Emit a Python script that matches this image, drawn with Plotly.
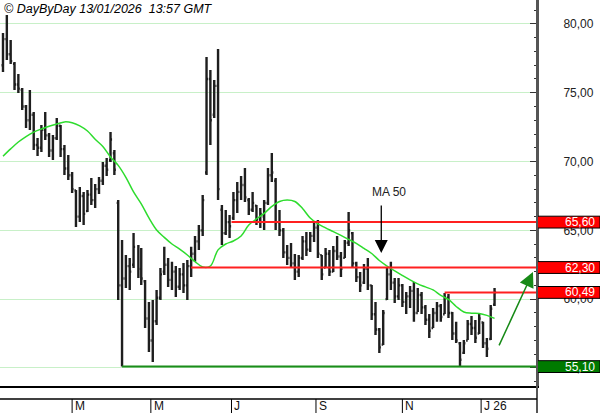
import pandas as pd
import plotly.graph_objects as go

# ---------------- data ----------------
holidays = ["2025-04-18", "2025-04-21", "2025-05-01", "2025-12-25", "2025-12-26", "2026-01-01"]
sessions = pd.bdate_range("2025-01-10", "2026-01-13")
sessions = sessions[~sessions.isin(pd.to_datetime(holidays))]
future = pd.bdate_range("2026-01-14", periods=30)
bar_dates = sessions[::2]          # one bar every two sessions
ma_dates = sessions[::4]

highs = [79.35, 80.65, 78.84, 77.24, 76.37, 75.35, 74.11, 75.20, 73.61, 71.72,
         72.66, 73.61, 72.08, 71.93, 73.17, 72.66, 71.21, 70.48, 69.24, 67.94,
         68.15, 67.79, 67.94, 68.81, 68.37, 68.88, 69.97, 70.26, 72.15, 70.84,
         67.21, 64.30, 63.21, 63.00, 64.81, 63.94, 63.72, 61.40, 59.80, 59.94,
         60.67, 62.27, 63.80, 63.00, 62.71, 62.41, 62.27, 62.63, 62.85, 63.80,
         64.59, 65.39, 67.57, 77.60, 76.66, 75.93, 78.18, 66.85, 66.48, 66.12,
         67.79, 68.52, 68.95, 69.54, 67.36, 67.79, 66.85, 66.63, 67.21, 69.54,
         70.63, 68.81, 66.48, 65.18, 63.94, 64.09, 63.29, 63.21, 64.59, 64.88,
         64.88, 65.61, 65.76, 63.21, 63.72, 63.58, 63.87, 64.59, 63.43, 64.30,
         66.34, 64.88, 62.71, 61.98, 62.56, 63.00, 61.03, 59.80, 57.91, 59.22,
         62.27, 62.71, 61.54, 61.54, 61.11, 60.52, 60.96, 61.25, 60.82, 60.52,
         59.58, 58.93, 59.36, 59.80, 59.65, 60.45, 60.38, 59.07, 58.35, 56.89,
         57.04, 58.49, 58.78, 58.49, 58.93, 58.35, 57.18, 59.58, 60.82]
lows = [76.51, 77.38, 77.09, 75.20, 74.99, 73.75, 72.44, 72.30, 70.84, 70.41,
        70.70, 71.57, 70.33, 70.12, 71.57, 70.33, 69.03, 68.66, 67.72, 65.25,
        65.61, 65.39, 66.34, 66.85, 66.63, 67.65, 68.30, 68.95, 69.97, 69.03,
        59.94, 55.10, 60.82, 60.67, 62.27, 61.54, 61.03, 57.91, 56.16, 55.44,
        58.13, 59.94, 61.76, 60.89, 60.67, 60.16, 60.67, 60.45, 59.94, 61.61,
        62.71, 63.58, 64.59, 69.03, 71.21, 73.17, 67.21, 63.94, 64.67, 64.45,
        65.76, 66.27, 67.21, 67.06, 66.12, 66.34, 65.39, 65.18, 65.03, 66.85,
        68.52, 65.03, 64.59, 63.00, 62.49, 62.27, 61.40, 61.61, 62.85, 63.14,
        63.43, 64.16, 63.00, 61.40, 62.27, 61.69, 61.98, 62.85, 61.61, 63.00,
        63.87, 62.27, 61.25, 60.52, 61.11, 60.67, 58.49, 57.40, 56.09, 56.67,
        59.94, 60.67, 59.73, 59.94, 59.43, 58.93, 59.36, 58.35, 59.07, 58.93,
        58.13, 57.18, 57.91, 58.35, 58.35, 58.93, 58.64, 57.04, 56.82, 55.10,
        56.02, 57.04, 57.40, 56.82, 57.47, 56.46, 55.80, 57.04, 59.51]
opens = [77.0, 78.9, 77.8, 77.1, 75.6, 75.2, 74.0, 73.0, 73.4, 71.2,
         71.0, 72.3, 71.9, 70.8, 71.7, 72.6, 70.9, 69.5, 69.0, 67.9,
         66.0, 67.5, 66.4, 67.6, 67.2, 68.0, 68.6, 69.7, 70.1, 70.6,
         67.0, 61.0, 61.5, 62.4, 62.5, 63.8, 62.2, 61.3, 58.6, 57.0,
         58.4, 60.1, 62.0, 62.5, 61.4, 62.0, 60.9, 61.8, 61.0, 62.4,
         63.3, 64.2, 65.0, 69.2, 76.0, 73.4, 75.5, 66.5, 64.8, 65.6,
         65.9, 67.2, 67.8, 68.3, 67.2, 66.5, 66.8, 65.8, 66.0, 67.0,
         69.0, 68.6, 65.6, 65.0, 63.4, 63.0, 62.6, 62.0, 63.0, 64.2,
         63.6, 64.6, 65.2, 63.2, 62.3, 63.3, 62.0, 63.5, 63.1, 63.0,
         64.1, 64.8, 62.6, 61.6, 61.2, 62.2, 61.0, 58.9, 57.8, 56.7,
         60.0, 61.8, 61.2, 60.2, 61.0, 59.8, 60.2, 60.6, 59.0, 60.3,
         59.4, 58.5, 57.9, 59.0, 59.5, 58.9, 60.1, 59.0, 57.5, 56.8,
         56.1, 57.0, 58.2, 57.9, 57.5, 58.3, 56.8, 57.1, 59.6]
closes = [78.9, 77.8, 77.3, 75.6, 75.3, 74.0, 73.0, 73.4, 71.2, 71.0,
          72.3, 71.9, 70.8, 71.7, 72.6, 70.9, 69.5, 69.0, 68.0, 66.0,
          67.5, 66.2, 67.6, 67.2, 68.0, 68.6, 69.7, 69.4, 71.6, 69.4,
          61.0, 61.5, 62.4, 62.0, 63.8, 62.2, 61.5, 58.6, 57.0, 58.4,
          60.1, 61.8, 62.5, 61.4, 62.0, 60.9, 61.8, 61.0, 62.4, 63.3,
          64.2, 65.0, 67.2, 76.0, 73.0, 75.5, 68.0, 64.8, 65.6, 65.3,
          67.2, 67.8, 68.3, 67.4, 66.5, 67.0, 65.8, 66.2, 67.0, 69.0,
          69.2, 65.6, 65.0, 63.4, 63.0, 62.6, 62.0, 63.0, 64.2, 63.6,
          64.6, 65.2, 63.3, 61.8, 63.3, 62.0, 63.5, 63.1, 62.2, 64.1,
          65.0, 62.6, 61.6, 61.0, 62.2, 61.0, 58.9, 57.8, 56.5, 59.0,
          61.8, 61.2, 60.2, 61.0, 59.8, 60.2, 60.6, 59.0, 60.3, 59.4,
          58.5, 57.7, 59.0, 59.5, 58.7, 60.1, 59.0, 57.5, 57.0, 55.6,
          56.8, 58.2, 57.9, 57.2, 58.6, 56.8, 56.4, 59.3, 60.49]

ma50 = [70.39, 70.92, 71.42, 71.82, 72.14, 72.37, 72.57, 72.73, 72.88, 72.82,
        72.59, 72.22, 71.62, 71.10, 70.33, 69.72, 68.85, 67.79, 66.92, 65.90,
        65.03, 64.49, 64.01, 63.63, 63.21, 62.73, 62.34, 62.41, 63.58, 64.01,
        64.23, 64.59, 65.39, 65.83, 66.23, 66.74, 67.10, 67.21, 67.10, 66.59,
        65.90, 65.47, 65.18, 64.91, 64.63, 64.34, 64.05, 63.69, 63.32, 62.81,
        62.41, 62.05, 61.72, 61.40, 61.11, 60.89, 60.67, 60.27, 59.98, 59.47,
        59.07, 58.98, 58.96, 58.82, 58.60]

levels = [65.60, 62.30, 60.49, 55.10]
level_start = [119, 98, 230, 62]          # session index where each line starts
level_colors = ["#ff2020", "#ff2020", "#ff2020", "#1a8c1a"]
box_colors = ["#ff0000", "#ff0000", "#ff0000", "#007a00"]

month_ticks = ["2025-03-03", "2025-05-02", "2025-07-01", "2025-09-01", "2025-11-03", "2026-01-02"]
month_labels = ["M", "M", "J", "S", "N", "J 26"]

header = "© DayByDay 13/01/2026\u00a0 13:57 GMT"

# ---------------- figure ----------------
W, H = 600, 413
ML, MR, MT, MB = 0, 63, 0, 27
PH = H - MT - MB
PW = W - ML - MR
x_start = "2025-01-08 10:35"
x_end = "2026-02-12 02:30"
FONT = "Liberation Sans, Arial, sans-serif"

fig = go.Figure()
fig.add_trace(go.Ohlc(
    x=bar_dates, open=opens, high=highs, low=lows, close=closes,
    increasing=dict(line=dict(color="#1e1e1e", width=2.4)),
    decreasing=dict(line=dict(color="#1e1e1e", width=2.4)),
    tickwidth=0.4, hoverinfo="skip", showlegend=False))
fig.add_trace(go.Scatter(
    x=ma_dates, y=ma50, mode="lines",
    line=dict(color="#2edc2e", width=1.5, shape="spline"),
    hoverinfo="skip", showlegend=False))

shapes = []
annotations = []
for lvl, si, lc, bc in zip(levels, level_start, level_colors, box_colors):
    shapes.append(dict(type="line", xref="x", yref="y", x0=sessions[si], x1=x_end,
                       y0=lvl, y1=lvl, line=dict(color=lc, width=2), layer="above"))
    shapes.append(dict(type="rect", xref="paper", yref="y", x0=1.0, x1=(W - ML) / PW,
                       y0=lvl - 0.43, y1=lvl + 0.43, fillcolor=bc,
                       line=dict(color="#000000", width=1), layer="above"))
    annotations.append(dict(xref="paper", yref="y", x=(W - 3 - ML) / PW, y=lvl,
                            xanchor="right", yanchor="middle", showarrow=False,
                            text=f"{lvl:.2f}".replace(".", ","),
                            font=dict(family=FONT, size=12, color="white")))

# right axis line down to the bottom, bottom band lines
shapes.append(dict(type="line", xref="paper", yref="paper", x0=1, x1=1,
                   y0=-MB / PH, y1=1, line=dict(color="#555555", width=2), layer="above"))
shapes.append(dict(type="line", xref="paper", yref="paper", x0=0, x1=1,
                   y0=-13 / PH, y1=-13 / PH, line=dict(color="#000000", width=1.5)))
for d, lab in zip(month_ticks, month_labels):
    shapes.append(dict(type="line", xref="x", yref="paper", x0=d, x1=d,
                       y0=-13 / PH, y1=-MB / PH, line=dict(color="#000000", width=1)))
    annotations.append(dict(xref="x", yref="paper", x=d, y=-20 / PH, xanchor="left",
                            yanchor="middle", xshift=1, showarrow=False, text=lab,
                            font=dict(family=FONT, size=12, color="#111111")))

# header
annotations.append(dict(xref="paper", yref="paper", x=2 / PW, y=1, xanchor="left",
                        yanchor="top", showarrow=False, text="<i>" + header + "</i>",
                        font=dict(family=FONT, size=12.5, color="#000000")))
# MA 50 label + arrow
annotations.append(dict(xref="x", yref="y", x=sessions[201], y=67.79, showarrow=False,
                        text="MA 50", font=dict(family=FONT, size=12, color="#222222")))
annotations.append(dict(xref="x", yref="y", x=sessions[197], y=63.36, ax=0, ay=-49,
                        text="", showarrow=True, arrowhead=2, arrowsize=2,
                        arrowwidth=1.3, arrowcolor="#000000"))
# green up arrow
annotations.append(dict(xref="x", yref="y", x=future[19], y=61.98,
                        axref="x", ayref="y", ax=future[1], ay=56.53,
                        text="", showarrow=True, arrowhead=2, arrowsize=2,
                        arrowwidth=1.5, arrowcolor="#178a17"))

fig.update_layout(
    width=W, height=H, autosize=False,
    margin=dict(l=ML, r=MR, t=MT, b=MB, pad=0),
    plot_bgcolor="white", paper_bgcolor="white",
    separators=", ", showlegend=False,
    font=dict(family=FONT, size=12, color="#111111"),
    shapes=shapes, annotations=annotations,
    xaxis=dict(type="date", range=[x_start, x_end],
               rangebreaks=[dict(bounds=["sat", "mon"]), dict(values=holidays)],
               rangeslider=dict(visible=False), showgrid=False, zeroline=False,
               showticklabels=False, ticks="", showline=True,
               linecolor="#000000", linewidth=1.5, fixedrange=True),
    yaxis=dict(side="right", range=[53.69, 81.74], tickvals=[55, 60, 65, 70, 75, 80],
               tickformat=".2f", showgrid=True, gridcolor="#c8f0c8", gridwidth=1,
               zeroline=False, showline=True, linecolor="#555555", linewidth=2,
               ticks="inside", ticklen=7, tickcolor="#333333", tickwidth=1,
               ticklabelstandoff=22,
               minor=dict(dtick=1, ticks="inside", ticklen=3, tickcolor="#333333",
                          showgrid=False),
               tickfont=dict(family=FONT, size=12, color="#222222"), fixedrange=True),
)

fig.write_html("out.html",
               config={"displayModeBar": False, "staticPlot": True},
               post_script="document.body.style.margin='0px';document.body.style.padding='0px';")
